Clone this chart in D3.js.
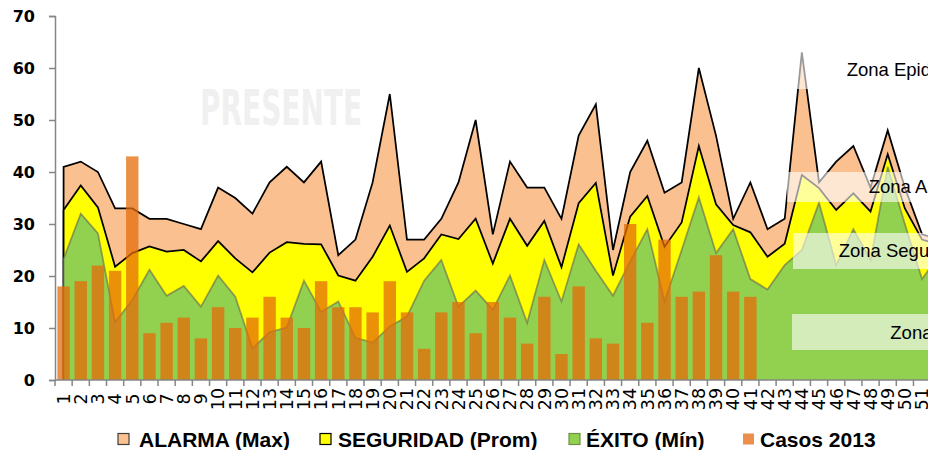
<!DOCTYPE html>
<html>
<head>
<meta charset="utf-8">
<script src="https://cdn.jsdelivr.net/npm/d3@7"></script>
<style>
  body { margin: 0; background: #fff; }
  svg { display: block; }
</style>
</head>
<body>
<svg id="chart" width="928" height="450"></svg>
<script>
// semanas epidemiologicas
var weeks = d3.range(1, 53);
var yTicks = [0, 10, 20, 30, 40, 50, 60, 70];

// canal endemico
var alarma = [41, 42, 40, 33, 33, 31, 31, 30, 29, 37,
              35, 32, 38, 41, 38, 42, 24, 27, 38, 55,
              27, 27, 31, 38, 50, 28, 42, 37, 37, 31,
              47, 53, 25, 40, 46, 36, 38, 60, 47, 31,
              38, 29, 31, 63, 38, 42, 45, 37, 48, 37,
              28, 27];
var seguridad = [32.7, 37.4, 33.2, 21.8, 24.4, 25.7, 24.7, 25.0, 22.8, 26.7,
                 23.4, 20.7, 24.5, 26.5, 26.2, 26.1, 20.1, 19.1, 23.7, 29.7,
                 20.8, 23.4, 28.0, 27.1, 31.0, 22.4, 31.0, 25.8, 30.6, 21.7,
                 34.0, 37.9, 20.1, 31.4, 35.4, 25.6, 30.3, 45.0, 33.8, 29.8,
                 28.4, 23.7, 26.2, 39.4, 36.9, 32.7, 35.9, 32.4, 43.4, 33.0,
                 27.0, 26.0];
var exito = [23.3, 32.0, 28.2, 11.1, 15.4, 21.2, 16.2, 18.1, 14.1, 20.1,
             16.0, 6.1, 9.2, 10.1, 19.1, 13.1, 15.1, 8.1, 7.2, 10.3,
             12.2, 19.1, 23.1, 14.1, 17.2, 13.5, 20.1, 11.0, 23.1, 15.1,
             26.1, 21.0, 16.2, 22.8, 29.0, 15.1, 25.0, 35.1, 24.4, 29.0,
             19.4, 17.4, 22.1, 25.0, 34.1, 22.1, 29.0, 23.1, 41.0, 30.0,
             19.4, 24.0];
// casos 2013 (hasta la semana 41)
var casos = [18, 19, 22, 21, 43, 9, 11, 12, 8, 14,
             10, 12, 16, 12, 10, 19, 14, 14, 13, 19,
             13, 6, 13, 15, 9, 15, 12, 7, 16, 5,
             18, 8, 7, 30, 11, 27, 16, 17, 24, 17,
             16];

var zonas = ['Zona Epidémica', 'Zona Alarma', 'Zona Seguridad', 'Zona Éxito'];
var leyenda = ['ALARMA (Max)', 'SEGURIDAD (Prom)', 'ÉXITO (Mín)', 'Casos 2013'];

var svg = d3.select('#chart');

var x = d3.scaleBand().domain(weeks).range([55, 947.8]);
var y = d3.scaleLinear().domain([0, 70]).range([380, 16]);
function cx(w) { return x(w) + x.bandwidth() / 2; }

// marca de agua
svg.append('text')
    .attr('x', 200).attr('y', 125)
    .attr('textLength', 162).attr('lengthAdjust', 'spacingAndGlyphs')
    .style('font-family', 'DejaVu Sans Condensed, DejaVu Sans')
    .style('font-weight', 'bold').style('font-size', '49px')
    .attr('fill', '#f0f0f0')
    .text('PRESENTE');

// areas del canal: relleno y borde (sin borde inferior)
function drawArea(values, fill, stroke, strokeOpacity) {
    var pts = weeks.map(function(w, i) { return [cx(w), y(values[i])]; });
    var area = d3.area().x(function(d) { return d[0]; }).y0(y(0)).y1(function(d) { return d[1]; });
    svg.append('path').attr('d', area(pts)).attr('fill', fill);
    var edge = [[pts[0][0], y(0)]].concat(pts);
    svg.append('path').attr('d', d3.line()(edge))
        .attr('fill', 'none')
        .attr('stroke', stroke)
        .attr('stroke-opacity', strokeOpacity)
        .attr('stroke-width', 1.75)
        .attr('stroke-linejoin', 'miter');
}
drawArea(alarma, '#fac090', '#000', 1);
drawArea(seguridad, '#ffff00', '#000', 1);
drawArea(exito, '#92d050', '#595959', 0.55);

// barras de casos
var barW = 12.4;
svg.append('g').selectAll('rect')
    .data(casos)
    .enter().append('rect')
    .attr('x', function(d, i) { return cx(weeks[i]) - barW / 2; })
    .attr('y', function(d) { return y(d); })
    .attr('width', barW)
    .attr('height', function(d) { return y(0) - y(d); })
    .attr('fill', 'rgba(228,108,10,0.75)');

// cajas de las zonas
var boxes = [[792, 48, 200, 41], [787, 172, 200, 30], [793, 233, 200, 36], [792, 314, 200, 36]];
var labelPos = [[846.7, 75.5], [868.7, 192.8], [838.7, 257.2], [890.3, 338.8]];
zonas.forEach(function(z, i) {
    var b = boxes[i];
    svg.append('rect').attr('x', b[0]).attr('y', b[1]).attr('width', b[2]).attr('height', b[3])
        .attr('fill', 'rgba(255,255,255,0.6)');
    svg.append('text')
        .attr('x', labelPos[i][0]).attr('y', labelPos[i][1])
        .style('font-family', 'Liberation Sans, Arial, sans-serif')
        .style('font-size', '18.5px')
        .attr('fill', '#000')
        .text(z);
});

// eje Y
var yAxis = svg.append('g').attr('transform', 'translate(55,0)')
    .call(d3.axisLeft(y).tickValues(yTicks).tickSize(6).tickPadding(14).tickFormat(d3.format('d')));
yAxis.select('.domain').attr('stroke', '#868686').attr('stroke-width', 1.5);
yAxis.selectAll('.tick line').attr('stroke', '#868686').attr('stroke-width', 1.5);
yAxis.selectAll('.tick text')
    .style('font-family', 'DejaVu Sans, Verdana, sans-serif')
    .style('font-weight', 'bold').style('font-size', '16px').attr('fill', '#000');

// eje X
var xg = svg.append('g');
xg.append('line').attr('x1', 55).attr('x2', 947.8).attr('y1', y(0)).attr('y2', y(0))
    .attr('stroke', '#868686').attr('stroke-width', 1.5);
xg.selectAll('line.tk').data(weeks.concat([53])).enter().append('line')
    .attr('class', 'tk')
    .attr('x1', function(w) { return w <= 52 ? x(w) : x(52) + x.bandwidth(); })
    .attr('x2', function(w) { return w <= 52 ? x(w) : x(52) + x.bandwidth(); })
    .attr('y1', y(0)).attr('y2', y(0) + 6)
    .attr('stroke', '#868686').attr('stroke-width', 1.5);
xg.selectAll('text').data(weeks).enter().append('text')
    .attr('transform', function(w) { return 'translate(' + cx(w) + ',399) rotate(-90)'; })
    .attr('text-anchor', 'middle')
    .attr('dy', '0.36em')
    .style('font-family', 'DejaVu Sans, Verdana, sans-serif')
    .style('font-size', '17.5px')
    .attr('fill', '#000')
    .text(function(w) { return w; });

// leyenda
var legFill = ['#fac090', '#ffff00', '#92d050', '#eb8f4b'];
var legStroke = ['#404040', '#000', '#6f8f45', 'none'];
var legSwatchX = [118, 320, 569, 743];
var legTextX = [139, 338, 586, 760];
leyenda.forEach(function(t, i) {
    svg.append('rect').attr('x', legSwatchX[i]).attr('y', 433.5).attr('width', 11).attr('height', 11)
        .attr('fill', legFill[i]).attr('stroke', legStroke[i]).attr('stroke-width', 1.2);
    svg.append('text').attr('x', legTextX[i]).attr('y', 447)
        .style('font-family', 'Liberation Sans, Arial, sans-serif')
        .style('font-weight', 'bold').style('font-size', '21px')
        .attr('fill', '#000')
        .text(t);
});
</script>
</body>
</html>
